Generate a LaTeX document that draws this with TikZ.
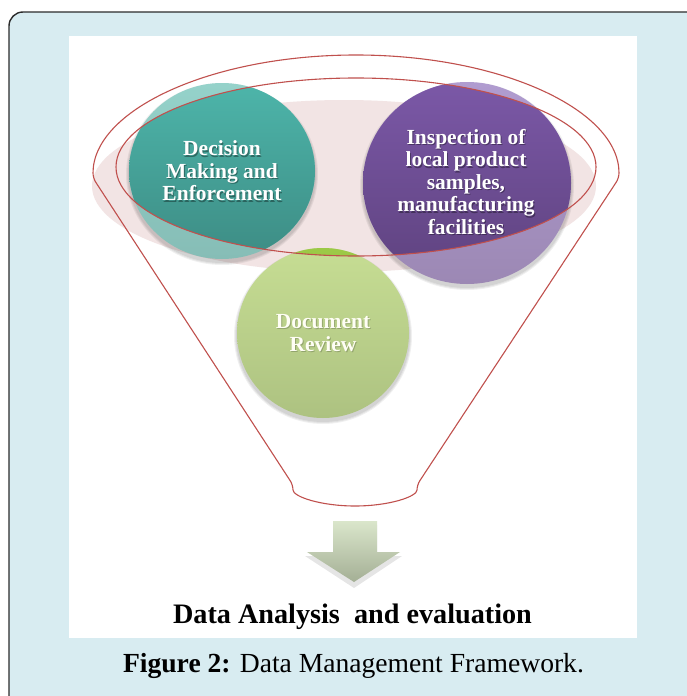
\documentclass[tikz,border=0pt]{standalone}
\usepackage{fontspec}
\setmainfont{Liberation Serif}
\usetikzlibrary{calc}

% palette
\definecolor{framebg}{HTML}{D8ECF1}
\definecolor{frameline}{HTML}{2B2B2B}
\definecolor{funnelred}{HTML}{C0504D}
\definecolor{bandpink}{HTML}{F2E4E4}
\definecolor{tealA}{HTML}{4DB5AA}
\definecolor{tealB}{HTML}{3D8C84}
\definecolor{tealFadeA}{HTML}{95D2CA}
\definecolor{tealFadeB}{HTML}{86BDB6}
\definecolor{purpA}{HTML}{7B58A7}
\definecolor{purpB}{HTML}{5E427E}
\definecolor{purpFadeA}{HTML}{B09CD0}
\definecolor{purpFadeB}{HTML}{9C88B4}
\definecolor{greenA}{HTML}{9CC947}
\definecolor{greenB}{HTML}{8DB845}
\definecolor{greenFadeA}{HTML}{C6DD93}
\definecolor{greenFadeB}{HTML}{ADC281}
\definecolor{arrowA}{HTML}{DAE6CB}
\definecolor{arrowB}{HTML}{A4AF95}

\tikzset{
  redline/.style={draw=funnelred, line width=1.1pt},
  circletext/.style={text=white, font=\bfseries\fontsize{21.5}{22.5}\selectfont,
    align=center, inner sep=0pt},
  textshadow/.style={circletext, text=black, opacity=0.35},
  blobshadow/.style={fill=black, opacity=0.06},
}

\begin{document}
\begin{tikzpicture}[x=1pt,y=-1pt]
\useasboundingbox (0,0) rectangle (687,696);

% caption box with its rounded corner
\begin{scope}
  \clip (0,0) rectangle (687,696);
  \draw[fill=framebg, draw=frameline, line width=1.4pt, rounded corners=14pt]
    (9,12) rectangle (730,740);
\end{scope}

% figure panel
\fill[white] (69,36) rectangle (637,638);

% circle centres
\coordinate (cTeal)   at (222,171);
\coordinate (cPurple) at (467,183);
\coordinate (cGreen)  at (323,333);
\coordinate (cRim)    at (356,167);

% pale band behind the circles
\fill[bandpink] (344,186) ellipse [x radius=252, y radius=86];

% soft shadows under the circles
\foreach \g in {2,4,6} {
  \fill[blobshadow] ($(cTeal)+(0,3)$) ellipse [x radius=93+\g/2, y radius=88+\g/2];
  \fill[blobshadow] ($(cPurple)+(0,3)$) ellipse [x radius=104+\g/2, y radius=101+\g/2];
  \fill[blobshadow] ($(cGreen)+(0,3)$) ellipse [x radius=86+\g/2, y radius=85+\g/2];
}

% circles as seen through the funnel wall
\shade[top color=tealFadeA, bottom color=tealFadeB] (cTeal) ellipse [x radius=93, y radius=88];
\shade[top color=purpFadeA, bottom color=purpFadeB] (cPurple) ellipse [x radius=104, y radius=101];
\shade[top color=greenFadeA, bottom color=greenFadeB] (cGreen) ellipse [x radius=86, y radius=85];

% circles inside the funnel mouth, full colour
\begin{scope}
  \clip (cRim) ellipse [x radius=240, y radius=89];
  \shade[top color=tealA, bottom color=tealB] (cTeal) ellipse [x radius=93, y radius=88];
  \shade[top color=purpA, bottom color=purpB] (cPurple) ellipse [x radius=104, y radius=101];
  \shade[top color=greenA, bottom color=greenB] (cGreen) ellipse [x radius=86, y radius=85];
\end{scope}

% circle labels
\node[textshadow] (sDecision) at ($(cTeal)+(1,1.2)$) {Decision\\Making and\\Enforcement};
\node[circletext] (tDecision) at (cTeal) {Decision\\Making and\\Enforcement};
\node[textshadow] (sInspect) at ($(cPurple)+(0,0.2)$) {Inspection of\\local product\\samples,\\manufacturing\\facilities};
\node[circletext] (tInspect) at ($(cPurple)+(-1,-1)$) {Inspection of\\local product\\samples,\\manufacturing\\facilities};
\node[textshadow, opacity=0.2] (sReview) at ($(cGreen)+(1,1.2)$) {Document\\Review};
\node[circletext, text=white!96!yellow] (tReview) at (cGreen) {Document\\Review};

% funnel outline
\draw[redline] (cRim) ellipse [x radius=240, y radius=89];
\draw[redline, line join=round, rounded corners=5pt]
  (93,178) arc [start angle=180, end angle=360, x radius=263, y radius=123]
  -- (417,485) arc [start angle=0, end angle=180, x radius=62, y radius=21]
  -- cycle;

% block arrow with its shadow
\fill[black, opacity=0.10]
  (333,525) -- (377,525) -- (377,556) -- (402,556) -- (354,588) -- (305,556) -- (333,556) -- cycle;
\shade[top color=arrowA, bottom color=arrowB]
  (333,521) -- (377,521) -- (377,552) -- (400,552) -- (354,582) -- (307,552) -- (333,552) -- cycle;

% outcome and caption
\node[anchor=base, inner sep=0pt, font=\bfseries\fontsize{28.2}{30}\selectfont]
  (outcome) at (352.5,623) {Data Analysis\ \ and evaluation};
\node[anchor=base, inner sep=0pt, font=\fontsize{27.6}{30}\selectfont]
  (caption) at (353.5,672) {\textbf{Figure 2:} Data Management Framework.};

\end{tikzpicture}
\end{document}
